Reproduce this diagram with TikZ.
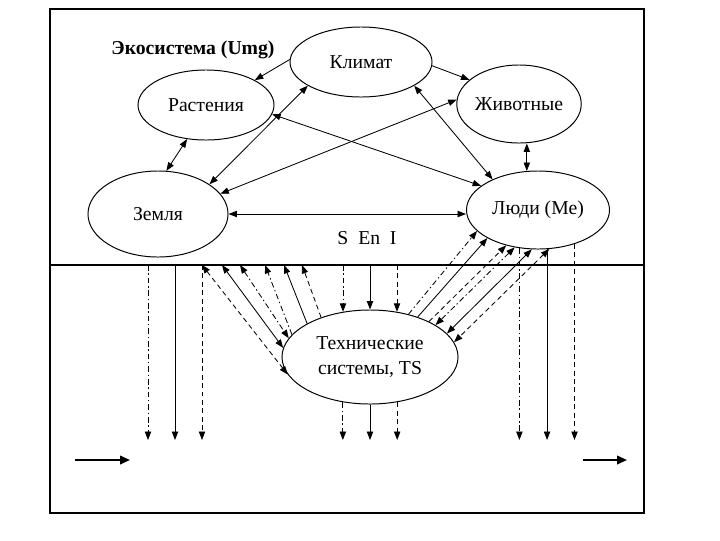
\documentclass[tikz,border=0pt]{standalone}
\usepackage{fontspec}
\setmainfont{Liberation Serif}
\usetikzlibrary{shapes.geometric,arrows.meta}

\begin{document}
\begin{tikzpicture}[x=0.025cm, y=-0.025cm,
    eco/.style={ellipse, draw, line width=0.7pt, inner sep=0pt,
        font=\fontsize{14}{17.5}\selectfont, align=center},
    arr/.style={-{Triangle[length=6pt,width=4.5pt]}, line width=0.6pt},
    dbl/.style={{Triangle[length=6pt,width=4.5pt]}-{Triangle[length=6pt,width=4.5pt]}, line width=0.6pt},
    dotdashln/.style={dash pattern=on 4pt off 2pt on 1pt off 2pt},
    dashln/.style={dash pattern=on 3.5pt off 2.5pt},
    flow/.style={-{Triangle[length=7pt,width=6pt]}, line width=1.4pt},
    lab/.style={font=\fontsize{14}{17}\selectfont}
]
    \useasboundingbox (0,0) rectangle (720,540);

    % Frame and boundary of the ecosystem
    \draw[line width=1.2pt] (50,9) rectangle (644,513);
    \draw[line width=0.8pt] (50,265) -- (644,265);

    % Ecosystem
    \node[eco, minimum width=3.55cm, minimum height=1.75cm] (klimat) at (361,62) {Климат};
    \node[eco, minimum width=3.4cm, minimum height=1.75cm] (rast) at (206,105) {Растения};
    \node[eco, minimum width=3.1cm, minimum height=1.95cm] (zhiv) at (519,104) {Животные};
    \node[eco, minimum width=3.5cm, minimum height=2.15cm] (zemlya) at (158,214) {Земля};
    \node[eco, minimum width=3.575cm, minimum height=1.95cm] (lyudi) at (538,210) {Люди (Ме)};
    \node[lab, font=\fontsize{14}{17}\selectfont\bfseries] (ecolab) at (193,50) {Экосистема (Umg)};
    \node[lab] (sei) at (367,238) {S~~En~~I};

    % Technical systems
    \node[eco, minimum width=4.4cm, minimum height=2.35cm] (tech) at (370,357) {Технические\\системы, TS};

    % Points on the boundary line and the bottom level
    \coordinate (g1) at (148,265);
    \coordinate (g2) at (175,265);
    \coordinate (g3) at (202,265);
    \coordinate (g4) at (222,265);
    \coordinate (g5) at (240,265);
    \coordinate (g6) at (265,265);
    \coordinate (g7) at (284,265);
    \coordinate (g8) at (302,265);
    \coordinate (m1) at (343,265);
    \coordinate (m2) at (370,265);
    \coordinate (m3) at (397,265);
    \coordinate (base) at (50,440);

    % Links inside the ecosystem
    \draw[arr] (klimat.178) -- (rast.27);
    \draw[arr] (klimat.-3) -- (zhiv.154);
    \draw[dbl] (rast.241) -- (zemlya.79);
    \draw[dbl] (zemlya.30) -- (klimat.204);
    \draw[dbl] (zemlya.18) -- (zhiv.176);
    \draw[dbl] (rast.352) -- (lyudi.157);
    \draw[dbl] (klimat.336) -- (lyudi.146);
    \draw[dbl] (lyudi.106) -- (lyudi.106 |- zhiv.south);
    \draw[dbl] (zemlya.east) -- (zemlya.east -| lyudi.west);

    % Flows leaving the ground
    \draw[arr, dotdashln] (g1) -- (g1 |- base);
    \draw[arr] (g2) -- (g2 |- base);
    \draw[arr, dashln] (g3) -- (g3 |- base);

    % Ground and technical systems
    \draw[dbl, dashln] (g3) -- (tech.192);
    \draw[dbl] (g4) -- (tech.174);
    \draw[dbl, dotdashln] (g5) -- (tech.167);
    \draw[arr, dotdashln] (tech.164) -- (g6);
    \draw[arr] (tech.152) -- (g7);
    \draw[arr, dashln] (tech.141) -- (g8);

    % Through the technical systems
    \draw[arr, dotdashln] (m1) -- (m1 |- tech.121);
    \draw[arr] (m2) -- (tech.north);
    \draw[arr, dashln] (m3) -- (m3 |- tech.59);
    \draw[arr, dotdashln] (tech.239) -- (tech.239 |- base);
    \draw[arr] (tech.south) -- (tech.south |- base);
    \draw[arr, dashln] (tech.301) -- (tech.301 |- base);

    % People and technical systems
    \draw[arr, dotdashln] (tech.48) -- (lyudi.199);
    \draw[arr] (tech.40) -- (lyudi.209);
    \draw[arr, dashln] (tech.31) -- (lyudi.228);
    \draw[dbl, dotdashln] (lyudi.238) -- (tech.26);
    \draw[dbl] (lyudi.261) -- (tech.17);
    \draw[dbl, dashln] (lyudi.286) -- (tech.10);

    % Flows leaving people
    \draw[arr, dotdashln] (lyudi.244) -- (lyudi.244 |- base);
    \draw[arr] (lyudi.283) -- (lyudi.283 |- base);
    \draw[arr, dashln] (lyudi.317) -- (lyudi.317 |- base);

    % Input and output
    \coordinate (inA) at (75,460);
    \coordinate (inB) at (130,460);
    \coordinate (outA) at (583,460);
    \coordinate (outB) at (627,460);
    \draw[flow] (inA) -- (inB);
    \draw[flow] (outA) -- (outB);
\end{tikzpicture}
\end{document}
